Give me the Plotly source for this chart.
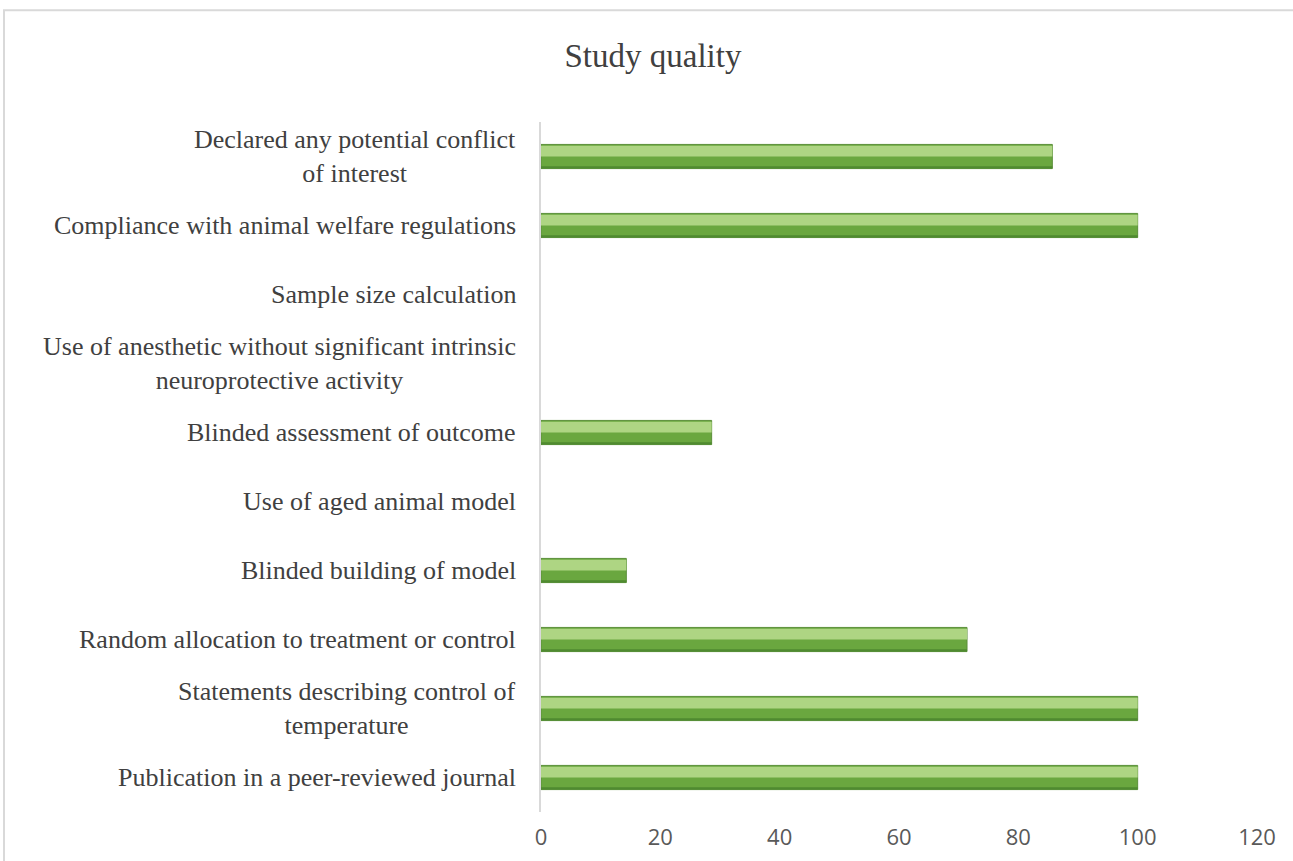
import plotly.graph_objects as go

categories = [
    "Publication in a peer-reviewed journal",
    "Statements describing control of<br>temperature",
    "Random allocation to treatment or control",
    "Blinded building of model",
    "Use of aged animal model",
    "Blinded assessment of outcome",
    "Use of anesthetic without significant intrinsic<br>neuroprotective activity",
    "Sample size calculation",
    "Compliance with animal welfare regulations",
    "Declared any potential conflict<br>of interest",
]
values = [100, 100, 71.4, 14.3, 0, 28.6, 0, 0, 100, 85.7]
x_ticks = [0, 20, 40, 60, 80, 100, 120]

edge_widths = [1 if v > 0 else 0 for v in values]

fig = go.Figure()
# base bar
fig.add_trace(go.Bar(
    y=categories, x=values, orientation="h", width=0.35,
    marker=dict(color="#6aa73f", line=dict(color="#5b8f3a", width=edge_widths)),
    hoverinfo="x+y", showlegend=False,
))
# lighter upper bevel
fig.add_trace(go.Bar(
    y=categories, x=values, orientation="h", width=0.155, offset=0.0,
    marker=dict(color="#aed583", line=dict(width=0)),
    hoverinfo="skip", showlegend=False,
))
# darker lower edge
fig.add_trace(go.Bar(
    y=categories, x=values, orientation="h", width=0.035, offset=-0.175,
    marker=dict(color="#4f8a30", line=dict(width=0)),
    hoverinfo="skip", showlegend=False,
))

annotations = []
for c in categories:
    annotations.append(dict(
        x=-0.032, xref="paper", y=c, yref="y", text=c, showarrow=False,
        xanchor="right", yanchor="middle", align="center",
        font=dict(family="Liberation Serif", size=26, color="#404040"),
    ))

fig.update_layout(
    width=1293, height=861,
    margin=dict(l=541, r=36, t=122, b=49),
    paper_bgcolor="white", plot_bgcolor="white",
    barmode="overlay",
    title=dict(text="Study quality", x=0.505, xanchor="center", y=0.936, yanchor="middle",
               font=dict(family="Liberation Serif", size=33, color="#404040")),
    xaxis=dict(range=[0, 120], tickvals=x_ticks, showgrid=False, zeroline=False,
               showline=False, ticks="", ticklabelstandoff=10, automargin=False,
               tickfont=dict(family="Open Sans", size=22, color="#595959")),
    yaxis=dict(categoryorder="array", categoryarray=categories, range=[-0.5, 9.5],
               showticklabels=False, showgrid=False, zeroline=False, automargin=False,
               showline=True, linecolor="#d9d9d9", linewidth=2, ticks=""),
    annotations=annotations,
    shapes=[dict(type="rect", xref="paper", yref="paper", x0=-0.75, x1=1.1, y0=-0.3, y1=1.162,
                 line=dict(color="#d9d9d9", width=2), layer="below")],
)

fig.write_html("out.html")
